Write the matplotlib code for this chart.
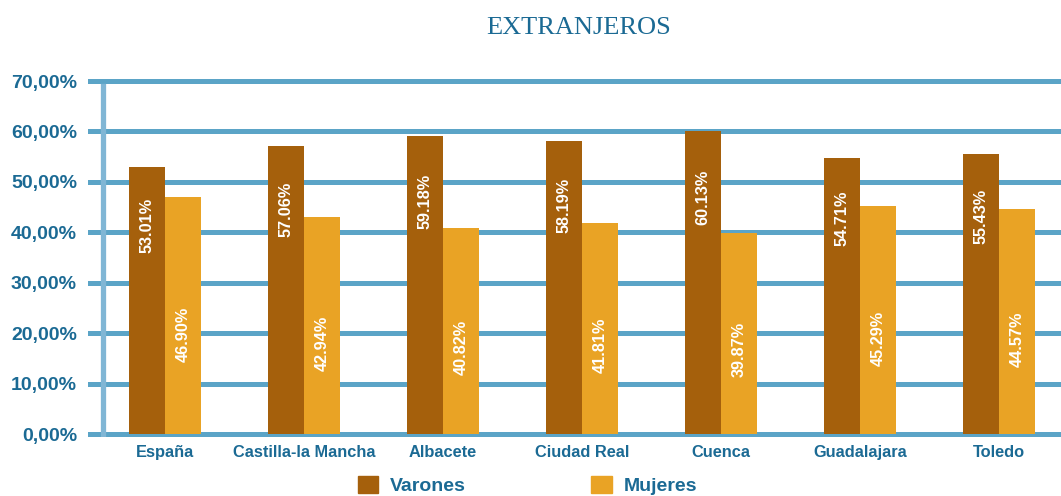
import numpy as np
import matplotlib
matplotlib.use("Agg")
import matplotlib.pyplot as plt
import matplotlib.patches as mpatches

provincias = ["España", "Castilla-la Mancha", "Albacete", "Ciudad Real",
              "Cuenca", "Guadalajara", "Toledo"]
varones = [53.01, 57.06, 59.18, 58.19, 60.13, 54.71, 55.43]
mujeres = [46.90, 42.94, 40.82, 41.81, 39.87, 45.29, 44.57]
yticks = [0, 10, 20, 30, 40, 50, 60, 70]

C_VAR = "#A5600C"
C_MUJ = "#E9A325"
C_GRID = "#5BA4C7"
C_AXIS = "#80B6D5"
C_TEXT = "#1B6A94"

plt.rcParams["font.family"] = ["Liberation Sans", "DejaVu Sans"]

fig = plt.figure(figsize=(10.61, 4.96), dpi=100)
# pixel layout: x 88..1061, y gridlines 0% at 434 and 70% at 81
W, H = 1061, 496
ppu = 353 / 70
bottom = (H - 434 - 0.5 * ppu) / H
top = (H - 81 + 0.5 * ppu) / H
ax = fig.add_axes([88 / W, bottom, 1 - 88 / W, top - bottom])

x = np.arange(len(provincias))
bw = 0.26
ax.set_xlim(-0.554, 6.446)
ax.set_ylim(-0.5, 70.5)

for t in yticks:
    ax.axhline(t, color=C_GRID, lw=3.6, zorder=1)
ax.axvline(-0.446, ymin=0.0, ymax=0.98, color=C_AXIS, lw=3.8, zorder=1)

ax.bar(x - bw / 2, varones, bw, color=C_VAR, zorder=3)
ax.bar(x + bw / 2, mujeres, bw, color=C_MUJ, zorder=3)

for i in x:
    ax.text(i - bw / 2, varones[i] * 0.78, f"{varones[i]:.2f}%", rotation=90,
            ha="center", va="center", color="white", fontsize=11.7,
            fontweight="bold", zorder=4)
    ax.text(i + bw / 2, mujeres[i] * 0.42, f"{mujeres[i]:.2f}%", rotation=90,
            ha="center", va="center", color="white", fontsize=11.7,
            fontweight="bold", zorder=4)

for s in ax.spines.values():
    s.set_visible(False)
ax.tick_params(length=0)
ax.set_yticks(yticks)
ax.set_yticklabels([f"{t},00%" for t in yticks], fontsize=14,
                   fontweight="bold", color=C_TEXT)
ax.tick_params(axis="y", pad=8)
ax.set_xticks(x)
ax.set_xticklabels(provincias, fontsize=11.8, fontweight="bold", color=C_TEXT)
ax.tick_params(axis="x", pad=6)

fig.text(0.545, 0.944, "EXTRANJEROS", family="Liberation Serif",
         fontsize=19, color=C_TEXT, ha="center", va="center")

handles = [mpatches.Patch(color=C_VAR, label="Varones"),
           mpatches.Patch(color=C_MUJ, label="Mujeres")]
leg = fig.legend(handles=handles, loc="lower center", ncol=2, frameon=False,
                 bbox_to_anchor=(0.497, -0.033), columnspacing=6.45,
                 handlelength=1.05, handleheight=1.0, handletextpad=0.6,
                 prop={"size": 14, "weight": "bold"})
for t in leg.get_texts():
    t.set_color(C_TEXT)

fig.savefig("out.png", dpi=100)
